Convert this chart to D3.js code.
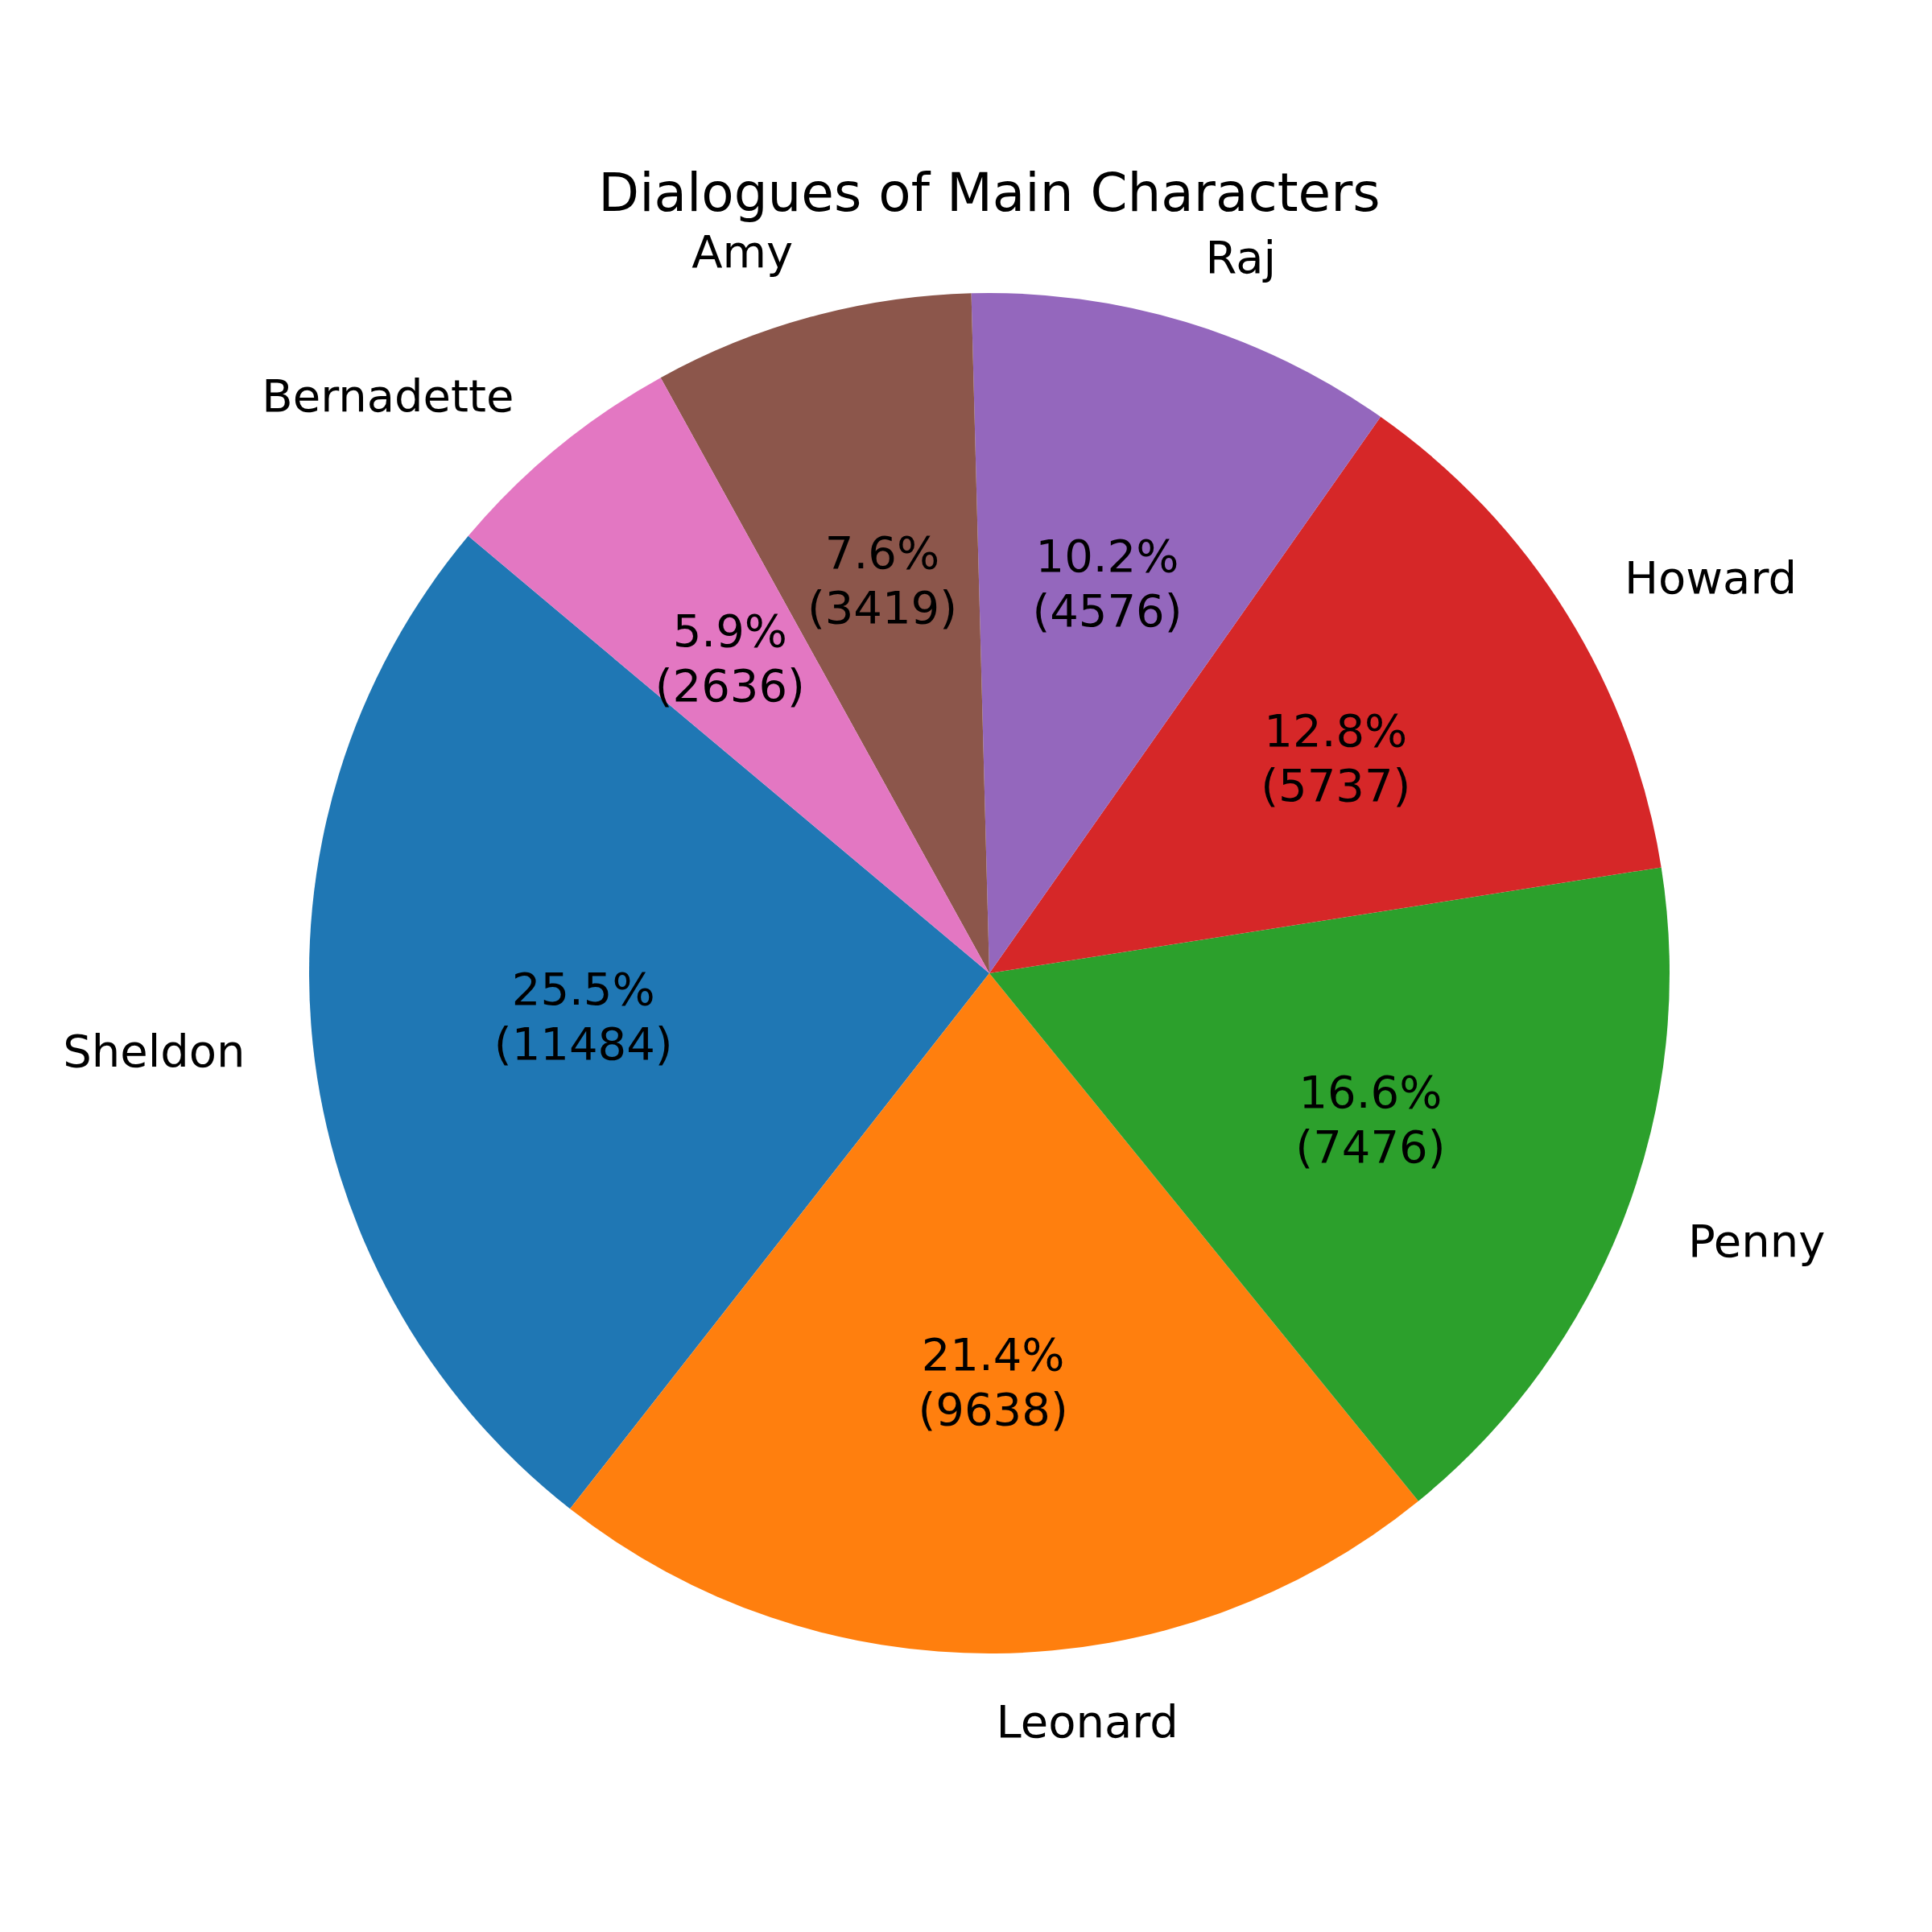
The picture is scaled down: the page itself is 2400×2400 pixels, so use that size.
<!DOCTYPE html>
<html>
<head>
<meta charset="utf-8">
<script src="https://cdn.jsdelivr.net/npm/d3@7"></script>
<style>body{margin:0;background:#fff}</style>
</head>
<body>
<svg id="chart" width="2400" height="2400"></svg>
<script>
// data
const characters = ['Sheldon', 'Leonard', 'Penny', 'Howard', 'Raj', 'Amy', 'Bernadette'];
const dialogues = [11484, 9638, 7476, 5737, 4576, 3419, 2636];
const colors = ['#1f77b4', '#ff7f0e', '#2ca02c', '#d62728', '#9467bd', '#8c564b', '#e377c2'];

const svg = d3.select('#chart');
const cx = 1229, cy = 1209, r = 845;
const font = 'DejaVu Sans, sans-serif';
const total = d3.sum(dialogues);

// matplotlib startangle 140, counterclockwise
const start = (90 - 140) * Math.PI / 180;
const pie = d3.pie().sort(null).startAngle(start).endAngle(start - 2 * Math.PI);
const arcs = pie(dialogues);
const arc = d3.arc().innerRadius(0).outerRadius(r);

const g = svg.append('g').attr('transform', `translate(${cx},${cy})`);

g.selectAll('path')
  .data(arcs)
  .enter()
  .append('path')
  .attr('d', arc)
  .attr('fill', (d, i) => colors[i]);

const mid = d => (d.startAngle + d.endAngle) / 2;

// outer labels
g.selectAll('text.lbl')
  .data(arcs)
  .enter()
  .append('text')
  .attr('class', 'lbl')
  .attr('x', d => Math.sin(mid(d)) * r * 1.1)
  .attr('y', d => -Math.cos(mid(d)) * r * 1.1)
  .attr('text-anchor', d => Math.sin(mid(d)) > 0 ? 'start' : 'end')
  .attr('dominant-baseline', 'central')
  .attr('font-family', font)
  .attr('font-size', 56)
  .text((d, i) => characters[i]);

// percent labels
const pct = g.selectAll('text.pct')
  .data(arcs)
  .enter()
  .append('text')
  .attr('class', 'pct')
  .attr('text-anchor', 'middle')
  .attr('font-family', font)
  .attr('font-size', 56)
  .attr('transform', d => `translate(${Math.sin(mid(d)) * r * 0.6},${-Math.cos(mid(d)) * r * 0.6})`);

pct.append('tspan')
  .attr('x', 0).attr('y', -14)
  .text(d => (d.value / total * 100).toFixed(1) + '%');
pct.append('tspan')
  .attr('x', 0).attr('y', 54)
  .text(d => '(' + d.value + ')');

svg.append('text')
  .attr('x', cx)
  .attr('y', 262)
  .attr('text-anchor', 'middle')
  .attr('font-family', font)
  .attr('font-size', 66)
  .text('Dialogues of Main Characters');
</script>
</body>
</html>
